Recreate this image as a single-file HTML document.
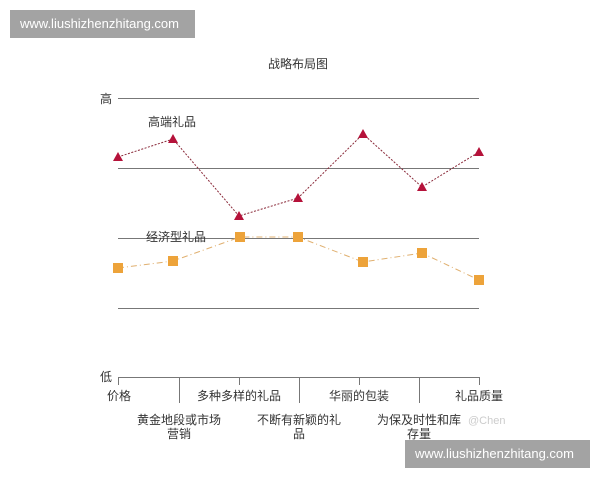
<!DOCTYPE html>
<html><head><meta charset="utf-8"><style>
body{margin:0;background:#fff;width:600px;height:480px;overflow:hidden;position:relative;font-family:"Liberation Sans","Noto Sans CJK SC",sans-serif}
.wm{position:absolute;background:#a3a3a3;color:#fff;font-size:13px;line-height:28px;padding:0 10px;height:28px}
</style></head><body>
<svg width="600" height="480" style="position:absolute;left:0;top:0" font-family="Liberation Sans, Noto Sans CJK SC, sans-serif">
<text x="298" y="68" font-size="12" text-anchor="middle" fill="#333">战略布局图</text>
<g stroke="#777" stroke-width="1">
<line x1="118" y1="98.5" x2="479" y2="98.5"/>
<line x1="118" y1="168.5" x2="479" y2="168.5"/>
<line x1="118" y1="238.5" x2="479" y2="238.5"/>
<line x1="118" y1="308.5" x2="479" y2="308.5"/>
<line x1="118" y1="377.5" x2="479" y2="377.5"/>
<line x1="118.5" y1="377" x2="118.5" y2="385"/>
<line x1="179.5" y1="377" x2="179.5" y2="403"/>
<line x1="239.5" y1="377" x2="239.5" y2="385"/>
<line x1="299.5" y1="377" x2="299.5" y2="403"/>
<line x1="359.5" y1="377" x2="359.5" y2="385"/>
<line x1="419.5" y1="377" x2="419.5" y2="403"/>
<line x1="479.5" y1="377" x2="479.5" y2="385"/>
</g>
<g font-size="12" fill="#333">
<text x="100" y="103">高</text>
<text x="100" y="381">低</text>
<text x="148" y="126">高端礼品</text>
<text x="146" y="241">经济型礼品</text>
<text x="107" y="400">价格</text>
<text x="239" y="400" text-anchor="middle">多种多样的礼品</text>
<text x="359" y="400" text-anchor="middle">华丽的包装</text>
<text x="479" y="400" text-anchor="middle">礼品质量</text>
<text x="179" y="424" text-anchor="middle">黄金地段或市场</text>
<text x="179" y="438" text-anchor="middle">营销</text>
<text x="299" y="424" text-anchor="middle">不断有新颖的礼</text>
<text x="299" y="438" text-anchor="middle">品</text>
<text x="419" y="424" text-anchor="middle">为保及时性和库</text>
<text x="419" y="438" text-anchor="middle">存量</text>
<text x="468" y="424" fill="#ccc" font-size="11">@Chen</text>
</g>
<polyline points="118,157 173,139 239,216 298,198 363,134 422,187 479,152" fill="none" stroke="#8a2a3a" stroke-width="1" stroke-dasharray="2,1.5"/>
<polyline points="118,268 173,261 240,237 298,237 363,262 422,253 479,280" fill="none" stroke="#e0b070" stroke-width="1" stroke-dasharray="6,3,1,3"/>
<g fill="#b5123a">
<polygon points="118,152 113,161 123,161"/>
<polygon points="173,134 168,143 178,143"/>
<polygon points="239,211 234,220 244,220"/>
<polygon points="298,193 293,202 303,202"/>
<polygon points="363,129 358,138 368,138"/>
<polygon points="422,182 417,191 427,191"/>
<polygon points="479,147 474,156 484,156"/>
</g>
<g fill="#eda33a">
<rect x="113" y="263" width="10" height="10"/>
<rect x="168" y="256" width="10" height="10"/>
<rect x="235" y="232" width="10" height="10"/>
<rect x="293" y="232" width="10" height="10"/>
<rect x="358" y="257" width="10" height="10"/>
<rect x="417" y="248" width="10" height="10"/>
<rect x="474" y="275" width="10" height="10"/>
</g>
</svg>
<div class="wm" style="left:10px;top:10px;width:165px">www.liushizhenzhitang.com</div>
<div class="wm" style="left:405px;top:440px;width:165px">www.liushizhenzhitang.com</div>
</body></html>
